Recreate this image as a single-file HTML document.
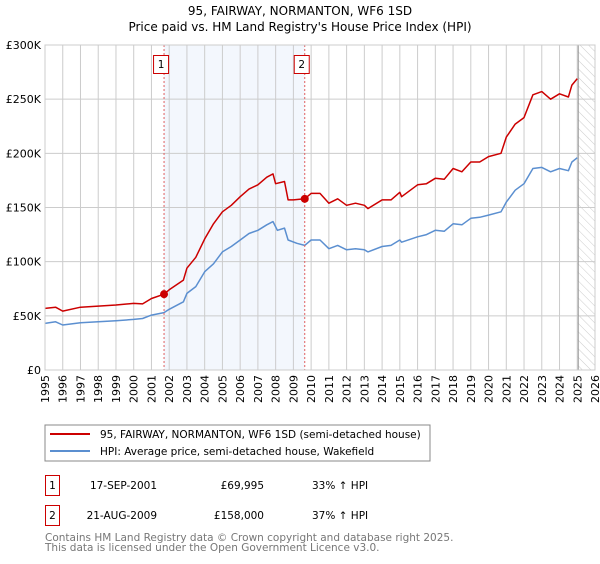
<!DOCTYPE html>
<html><head><meta charset="utf-8"><style>
body{margin:0;background:#fff;font-family:"DejaVu Sans","Liberation Sans",sans-serif;}
svg text{font-family:"DejaVu Sans","Liberation Sans",sans-serif;}
</style></head><body>
<svg id="chart" width="600" height="560" viewBox="0 0 600 560" xmlns="http://www.w3.org/2000/svg">
<defs><pattern id="hatch" width="6" height="6" patternUnits="userSpaceOnUse" patternTransform="rotate(-45)"><line x1="0" y1="0" x2="0" y2="6" stroke="#ccc" stroke-width="1"/></pattern></defs>
<text x="300" y="15" text-anchor="middle" font-size="12">95, FAIRWAY, NORMANTON, WF6 1SD</text>
<text x="300" y="31" text-anchor="middle" font-size="12">Price paid vs. HM Land Registry's House Price Index (HPI)</text>
<g id="plot"></g>
<rect x="45" y="425" width="385" height="36" fill="none" stroke="#888"/>
<line x1="50" y1="434" x2="90" y2="434" stroke="#cc0000" stroke-width="2"/>
<text x="100" y="438" font-size="10.5">95, FAIRWAY, NORMANTON, WF6 1SD (semi-detached house)</text>
<line x1="50" y1="451" x2="90" y2="451" stroke="#5b8fd0" stroke-width="2"/>
<text x="100" y="455" font-size="10.5">HPI: Average price, semi-detached house, Wakefield</text>
<g font-size="10.5">
<rect x="45.5" y="475.5" width="14" height="20" fill="none" stroke="#cc0000"/>
<text x="52.5" y="489" text-anchor="middle">1</text>
<text x="157" y="489" text-anchor="end">17-SEP-2001</text>
<text x="264" y="489" text-anchor="end">£69,995</text>
<text x="312" y="489">33% ↑ HPI</text>
<rect x="45.5" y="505.5" width="14" height="20" fill="none" stroke="#cc0000"/>
<text x="52.5" y="519" text-anchor="middle">2</text>
<text x="157" y="519" text-anchor="end">21-AUG-2009</text>
<text x="264" y="519" text-anchor="end">£158,000</text>
<text x="312" y="519">37% ↑ HPI</text>
</g>
<text x="45" y="541" font-size="10.5" fill="#777">Contains HM Land Registry data © Crown copyright and database right 2025.</text>
<text x="45" y="551" font-size="10.5" fill="#777">This data is licensed under the Open Government Licence v3.0.</text>
</svg>
<script>
const yTicks=[0,50000,100000,150000,200000,250000,300000];
const yTickLabels=["£0","£50K","£100K","£150K","£200K","£250K","£300K"];
const xYears=[1995,1996,1997,1998,1999,2000,2001,2002,2003,2004,2005,2006,2007,2008,2009,2010,2011,2012,2013,2014,2015,2016,2017,2018,2019,2020,2021,2022,2023,2024,2025,2026];
const redDates=[1995,1995.6,1996,1997,1998,1999,2000,2000.5,2001,2001.71,2002,2002.8,2003,2003.5,2004,2004.5,2005,2005.5,2006,2006.5,2007,2007.5,2007.85,2008,2008.5,2008.7,2009,2009.64,2010,2010.5,2011,2011.5,2012,2012.5,2013,2013.2,2014,2014.5,2015,2015.1,2016,2016.5,2017,2017.5,2018,2018.5,2019,2019.5,2020,2020.7,2021,2021.5,2022,2022.5,2023,2023.5,2024,2024.5,2024.7,2025];
const redValues=[56900,58000,54400,58000,59000,60000,61500,61000,66000,69995,74000,83000,94000,104000,121000,135000,146000,152000,160000,167000,171000,178000,181000,172000,174000,157000,157000,158000,163000,163000,154000,158000,152000,154000,152000,149000,157000,157000,164000,160000,171000,172000,177000,176000,186000,183000,192000,192000,197000,200000,215000,227000,233000,254000,257000,250000,255000,252000,263000,269000];
const hpiDates=[1995,1995.6,1996,1997,1998,1999,2000,2000.5,2001,2001.71,2002,2002.8,2003,2003.5,2004,2004.5,2005,2005.5,2006,2006.5,2007,2007.5,2007.85,2008.1,2008.5,2008.7,2009.2,2009.64,2010,2010.5,2011,2011.5,2012,2012.5,2013,2013.2,2014,2014.5,2015,2015.1,2016,2016.5,2017,2017.5,2018,2018.5,2019,2019.5,2020,2020.7,2021,2021.5,2022,2022.5,2023,2023.5,2024,2024.5,2024.7,2025];
const hpiValues=[43000,44500,41500,43600,44600,45500,46700,47500,50700,53000,56000,63000,70700,77000,90700,98000,109000,114000,120000,126000,129000,134000,137000,129000,131000,120000,117000,115000,120000,120000,112000,115000,111000,112000,111000,109000,114000,115000,120000,118000,123000,125000,129000,128000,135000,134000,140000,141000,143000,146000,155000,166000,172000,186000,187000,183000,186000,184000,192000,196000];
const saleDates=[2001.71,2009.64];
const salePrices=[69995,158000];
const saleLabels=["1","2"];

const X0=45,X1=595,Y0=370,Y1=45;
const xs=y=>X0+(y-1995)/(2026-1995)*(X1-X0);
const ys=v=>Y0-v/300000*(Y0-Y1);
const NS="http://www.w3.org/2000/svg";
const plot=document.getElementById('plot');
function mk(tag,attrs,parent){const e=document.createElementNS(NS,tag);for(const k in attrs)e.setAttribute(k,attrs[k]);(parent||plot).appendChild(e);return e;}

let r=mk('rect',{x:xs(saleDates[0]),y:Y1,width:xs(saleDates[1])-xs(saleDates[0]),height:Y0-Y1,fill:'#eef3fc',opacity:0.7});


r=mk('rect',{x:xs(2025),y:Y1,width:X1-xs(2025),height:Y0-Y1,fill:'url(#hatch)'});


xYears.forEach(yr=>{
  const l=mk('line',{x1:xs(yr),x2:xs(yr),y1:Y1,y2:Y0,stroke:'#ccc','stroke-width':1});
  
  
  const t=mk('text',{x:0,y:0,'font-size':11,'text-anchor':'end',transform:`translate(${xs(yr)+4},${Y0+5}) rotate(-90)`});
  t.textContent=yr;
  
  
});
yTicks.forEach((v,i)=>{
  const l=mk('line',{x1:X0,x2:X1,y1:ys(v),y2:ys(v),stroke:'#ccc','stroke-width':1});
  
  
  const t=mk('text',{x:X0-4,y:ys(v)+4,'font-size':11,'text-anchor':'end'});
  t.textContent=yTickLabels[i];
  
  
});
let cl=mk('line',{x1:xs(2025)+1,x2:xs(2025)+1,y1:Y1,y2:Y0,stroke:'#999','stroke-width':1});


function path(d,v,color,name){
  const p=mk('path',{d:d.map((x,i)=>(i?'L':'M')+xs(x).toFixed(1)+','+ys(v[i]).toFixed(1)).join(''),fill:'none',stroke:color,'stroke-width':1.5,'stroke-linejoin':'round'});
  
  
}
path(hpiDates,hpiValues,'#5b8fd0','hpi-line');
path(redDates,redValues,'#cc0000','property-price-line');
saleDates.forEach((d,i)=>{
  const l=mk('line',{x1:xs(d),x2:xs(d),y1:Y1,y2:Y0,stroke:'#e06060','stroke-width':1,'stroke-dasharray':'2,2'});
  
  
  const c=mk('circle',{cx:xs(d),cy:ys(salePrices[i]),r:4,fill:'#cc0000'});
  
  
  const b=mk('rect',{x:xs(d)-10.5,y:55.5,width:15,height:18,fill:'#fff',stroke:'#cc0000'});
  
  
  const t=mk('text',{x:xs(d)-3,y:68,'font-size':10.5,'text-anchor':'middle'});
  t.textContent=saleLabels[i];
  
  
});
const f=mk('rect',{x:X0,y:Y1,width:X1-X0,height:Y0-Y1,fill:'none',stroke:'#ccc'});


</script>
</body></html>
